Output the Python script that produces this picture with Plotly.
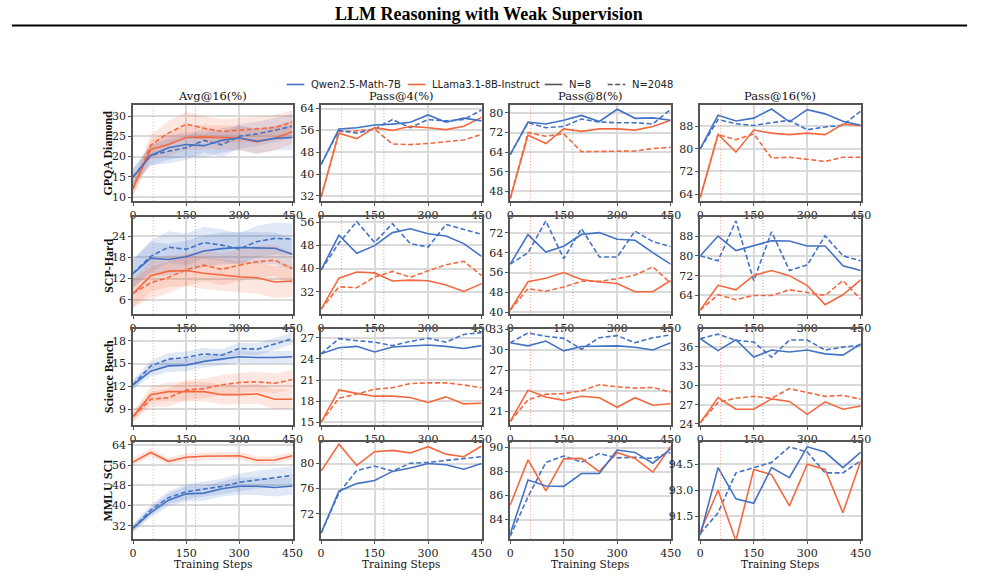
import plotly.graph_objects as go

W, H = 985, 585
STEPS = [0, 50, 100, 150, 200, 250, 300, 350, 400, 450]
BENCHMARKS = ["GPQA Diamond", "SCP-Hard", "Science Bench", "MMLU SCI"]
METRICS = ["Avg@16(%)", "Pass@4(%)", "Pass@8(%)", "Pass@16(%)"]
MODELS = ["Qwen2.5-Math-7B", "LLama3.1-8B-Instruct"]
BUDGETS = ["N=8", "N=2048"]
X_TICKS = [0, 150, 300, 450]
MARK_STEPS = [57, 176]  # dotted reference lines (LLama, Qwen)

# ---------------- GPQA Diamond ----------------
GPQA_AVG_Q8 = [15.0, 20.3, 22.2, 23.0, 22.7, 24.0, 24.6, 23.8, 24.5, 24.7]
GPQA_AVG_Q2K = [15.0, 20.3, 21.3, 22.2, 24.0, 22.9, 25.0, 25.6, 26.5, 27.5]
GPQA_AVG_L8 = [12.3, 21.8, 23.0, 24.7, 24.8, 24.7, 24.6, 23.6, 24.6, 26.1]
GPQA_AVG_L2K = [12.0, 22.8, 25.8, 28.0, 27.0, 26.2, 26.5, 26.8, 27.2, 28.5]
GPQA_AVG_QSD = [2.0, 2.5, 3.0, 3.0, 3.0, 3.0, 3.0, 3.0, 3.0, 3.0]
GPQA_AVG_LSD = [1.8, 2.5, 3.0, 3.0, 3.0, 3.0, 3.0, 3.0, 3.0, 3.0]

GPQA_P4_Q8 = [43.5, 56.5, 57.0, 58.0, 58.3, 59.0, 61.7, 59.0, 60.5, 59.5]
GPQA_P4_Q2K = [43.5, 56.0, 55.0, 56.5, 60.0, 57.0, 60.0, 59.5, 60.0, 63.5]
GPQA_P4_L8 = [31.5, 55.0, 53.0, 57.0, 56.0, 57.5, 57.0, 56.3, 57.5, 60.8]
GPQA_P4_L2K = [31.5, 55.5, 55.8, 56.5, 51.0, 50.8, 51.2, 51.8, 52.5, 54.5]

GPQA_P8_Q8 = [63.0, 76.3, 75.5, 77.0, 79.0, 76.5, 81.5, 77.8, 78.0, 77.0]
GPQA_P8_Q2K = [63.0, 76.0, 74.0, 74.5, 77.5, 76.3, 76.0, 76.0, 75.5, 81.5]
GPQA_P8_L8 = [45.0, 71.0, 67.5, 73.5, 72.5, 73.5, 73.5, 73.0, 74.5, 77.0]
GPQA_P8_L2K = [45.0, 72.0, 70.5, 71.5, 64.2, 64.2, 64.3, 64.5, 65.5, 66.0]

GPQA_P16_Q8 = [80.0, 91.8, 89.8, 90.8, 94.0, 89.5, 93.8, 92.3, 89.7, 88.3]
GPQA_P16_Q2K = [80.0, 90.3, 88.8, 88.2, 89.2, 90.0, 86.7, 87.7, 88.3, 93.3]
GPQA_P16_L8 = [62.8, 85.1, 78.8, 86.6, 85.5, 85.0, 85.5, 85.0, 88.7, 88.2]
GPQA_P16_L2K = [62.8, 85.0, 83.2, 85.2, 76.7, 77.0, 76.3, 75.5, 77.0, 77.0]

# ---------------- SCP-Hard ----------------
SCP_AVG_Q8 = [13.4, 17.8, 17.4, 18.2, 19.8, 20.5, 20.8, 20.8, 20.6, 18.9]
SCP_AVG_Q2K = [13.5, 18.3, 20.9, 20.3, 22.2, 21.5, 20.4, 22.5, 23.4, 23.2]
SCP_AVG_L8 = [7.7, 12.8, 14.1, 14.3, 13.5, 12.9, 12.5, 12.2, 11.0, 11.3]
SCP_AVG_L2K = [7.8, 10.8, 12.3, 14.5, 15.8, 14.6, 15.8, 16.8, 17.2, 14.8]
SCP_AVG_QSD = [4.0, 4.5, 4.5, 4.5, 4.5, 4.5, 4.5, 4.5, 4.5, 4.5]
SCP_AVG_LSD = [4.0, 4.5, 4.5, 4.5, 4.5, 4.5, 4.5, 4.5, 4.5, 4.5]

SCP_P4_Q8 = [39.5, 51.5, 45.3, 47.9, 52.4, 53.7, 52.0, 51.2, 48.6, 44.2]
SCP_P4_Q2K = [39.5, 48.8, 56.2, 49.0, 55.5, 48.6, 47.4, 55.2, 53.5, 51.8]
SCP_P4_L8 = [26.0, 36.7, 38.8, 38.5, 35.7, 36.0, 35.8, 34.3, 32.1, 34.8]
SCP_P4_L2K = [26.0, 33.7, 33.4, 37.1, 39.0, 37.0, 39.2, 41.3, 42.5, 37.6]

SCP_P8_Q8 = [59.4, 71.3, 64.3, 66.6, 71.3, 72.1, 69.4, 69.0, 64.0, 59.4]
SCP_P8_Q2K = [59.4, 64.0, 76.8, 61.6, 73.7, 62.3, 62.3, 72.7, 68.5, 66.5]
SCP_P8_L8 = [40.9, 52.3, 53.7, 56.0, 53.2, 52.2, 51.6, 48.3, 48.3, 52.8]
SCP_P8_L2K = [40.9, 49.5, 48.5, 50.2, 52.5, 52.5, 53.5, 55.0, 58.3, 51.7]

SCP_P16_Q8 = [80.0, 88.0, 82.1, 84.0, 86.1, 86.0, 84.0, 84.0, 76.0, 74.1]
SCP_P16_Q2K = [80.0, 78.0, 94.1, 70.0, 89.7, 74.1, 76.3, 88.1, 80.0, 78.0]
SCP_P16_L8 = [58.1, 68.1, 66.3, 72.1, 74.1, 72.0, 68.0, 60.3, 64.3, 70.3]
SCP_P16_L2K = [58.1, 64.3, 62.3, 64.0, 64.0, 66.3, 65.2, 64.0, 70.0, 62.5]

# ---------------- Science Bench ----------------
SCI_AVG_Q8 = [12.2, 14.0, 14.7, 14.8, 15.3, 15.6, 15.9, 15.8, 15.8, 15.9]
SCI_AVG_Q2K = [12.2, 14.7, 15.6, 15.8, 16.3, 16.1, 17.0, 16.9, 17.6, 18.3]
SCI_AVG_L8 = [8.0, 10.9, 11.3, 11.3, 11.3, 10.9, 10.9, 11.0, 10.3, 10.3]
SCI_AVG_L2K = [8.0, 10.3, 10.5, 11.5, 11.7, 12.2, 12.5, 12.6, 12.4, 12.9]
SCI_AVG_QSD = [0.6, 0.7, 0.8, 0.8, 0.8, 0.8, 0.8, 0.8, 0.8, 0.8]
SCI_AVG_LSD = [0.6, 1.0, 1.2, 1.3, 1.3, 1.3, 1.3, 1.3, 1.3, 1.3]

SCI_P4_Q8 = [24.75, 25.6, 25.8, 25.0, 25.7, 25.8, 26.0, 25.8, 25.5, 25.9]
SCI_P4_Q2K = [24.75, 26.9, 26.6, 26.4, 25.9, 26.5, 26.95, 26.4, 27.5, 27.75]
SCI_P4_L8 = [15.0, 19.6, 19.1, 18.7, 18.7, 18.5, 17.8, 18.6, 17.6, 17.7]
SCI_P4_L2K = [15.0, 18.4, 19.0, 19.7, 19.9, 20.5, 20.6, 20.6, 20.3, 19.9]

SCI_P8_Q8 = [31.05, 30.6, 31.3, 29.86, 30.5, 30.6, 30.6, 30.4, 30.0, 31.05]
SCI_P8_Q2K = [31.05, 32.5, 32.0, 31.7, 30.1, 31.8, 32.1, 31.05, 31.8, 32.2]
SCI_P8_L8 = [19.5, 24.1, 23.1, 22.6, 23.2, 23.0, 21.6, 23.0, 21.9, 22.1]
SCI_P8_L2K = [19.5, 22.7, 23.5, 23.6, 24.0, 24.9, 24.6, 24.4, 24.5, 23.8]

SCI_P16_Q8 = [37.27, 35.4, 37.1, 34.4, 35.5, 35.2, 35.5, 34.9, 34.7, 36.45]
SCI_P16_Q2K = [37.27, 37.97, 37.0, 36.76, 34.4, 37.05, 37.05, 35.5, 35.95, 36.25]
SCI_P16_L8 = [24.2, 28.1, 26.3, 26.3, 27.9, 27.5, 25.5, 27.45, 26.3, 26.8]
SCI_P16_L2K = [24.2, 27.35, 28.0, 28.3, 28.0, 29.5, 28.9, 28.3, 28.45, 27.85]

# ---------------- MMLU SCI (no LLama N=2048 curve) ----------------
MMLU_AVG_Q8 = [31.0, 37.2, 42.1, 44.6, 44.9, 46.6, 47.6, 47.6, 47.1, 47.7]
MMLU_AVG_Q2K = [31.0, 38.2, 43.1, 45.4, 46.5, 47.5, 49.2, 50.2, 51.2, 51.9]
MMLU_AVG_L8 = [57.2, 61.0, 57.5, 59.1, 59.5, 59.5, 59.7, 57.9, 58.0, 59.7]
MMLU_AVG_L2K = None
MMLU_AVG_QSD = [1.5, 2.0, 2.5, 3.0, 3.0, 3.0, 3.5, 3.5, 3.5, 3.5]
MMLU_AVG_LSD = [1.5, 1.5, 1.5, 1.5, 1.5, 1.5, 1.5, 1.5, 1.5, 1.5]

MMLU_P4_Q8 = [68.9, 75.6, 76.8, 77.3, 78.75, 79.3, 80.0, 79.8, 79.1, 80.0]
MMLU_P4_Q2K = [68.9, 75.3, 78.9, 79.6, 78.8, 80.05, 80.2, 80.5, 80.7, 81.1]
MMLU_P4_L8 = [78.8, 83.1, 79.7, 81.9, 82.1, 81.7, 82.7, 81.5, 81.1, 82.8]

MMLU_P8_Q8 = [82.8, 87.3, 86.8, 86.77, 87.84, 87.84, 89.8, 89.6, 88.7, 89.9]
MMLU_P8_Q2K = [82.6, 85.9, 88.76, 89.3, 88.8, 89.5, 89.15, 89.2, 89.1, 89.6]
MMLU_P8_L8 = [85.2, 88.98, 86.4, 89.06, 89.1, 88.0, 89.6, 89.1, 87.95, 90.1]

MMLU_P16_Q8 = [90.4, 94.3, 92.5, 92.25, 94.3, 93.72, 95.5, 95.2, 94.3, 95.2]
MMLU_P16_Q2K = [90.5, 91.7, 94.0, 94.3, 94.6, 95.5, 95.2, 94.0, 94.0, 94.7]
MMLU_P16_L8 = [90.6, 93.0, 90.08, 94.2, 93.9, 92.1, 94.5, 94.2, 91.7, 94.7]

# ---------------- axis ranges / ticks ----------------
Y_RANGES = [
    [[9, 32.7], [30, 65.3], [44, 83.2], [61.5, 95.4]],
    [[1.9, 29.5], [24.3, 57.8], [39.3, 78.4], [56.5, 95.7]],
    [[6.9, 19.6], [14.6, 28.3], [19.0, 33.1], [23.85, 38.8]],
    [[26.8, 65.3], [68.0, 83.5], [82.4, 90.5], [90.2, 95.8]],
]
Y_TICKS = [
    [["10", "15", "20", "25", "30"], ["32", "40", "48", "56", "64"], ["48", "56", "64", "72", "80"], ["64", "72", "80", "88"]],
    [["6", "12", "18", "24"], ["32", "40", "48", "56"], ["40", "48", "56", "64", "72"], ["64", "72", "80", "88"]],
    [["9", "12", "15", "18"], ["15", "18", "21", "24", "27"], ["21", "24", "27", "30", "33"], ["24", "27", "30", "33", "36"]],
    [["32", "40", "48", "56", "64"], ["72", "76", "80"], ["84", "86", "88", "90"], ["91.5", "93.0", "94.5"]],
]

# ---------------- assemble tables ----------------
PANELS = [
    [(GPQA_AVG_Q8, GPQA_AVG_Q2K, GPQA_AVG_L8, GPQA_AVG_L2K, GPQA_AVG_QSD, GPQA_AVG_LSD),
     (GPQA_P4_Q8, GPQA_P4_Q2K, GPQA_P4_L8, GPQA_P4_L2K, None, None),
     (GPQA_P8_Q8, GPQA_P8_Q2K, GPQA_P8_L8, GPQA_P8_L2K, None, None),
     (GPQA_P16_Q8, GPQA_P16_Q2K, GPQA_P16_L8, GPQA_P16_L2K, None, None)],
    [(SCP_AVG_Q8, SCP_AVG_Q2K, SCP_AVG_L8, SCP_AVG_L2K, SCP_AVG_QSD, SCP_AVG_LSD),
     (SCP_P4_Q8, SCP_P4_Q2K, SCP_P4_L8, SCP_P4_L2K, None, None),
     (SCP_P8_Q8, SCP_P8_Q2K, SCP_P8_L8, SCP_P8_L2K, None, None),
     (SCP_P16_Q8, SCP_P16_Q2K, SCP_P16_L8, SCP_P16_L2K, None, None)],
    [(SCI_AVG_Q8, SCI_AVG_Q2K, SCI_AVG_L8, SCI_AVG_L2K, SCI_AVG_QSD, SCI_AVG_LSD),
     (SCI_P4_Q8, SCI_P4_Q2K, SCI_P4_L8, SCI_P4_L2K, None, None),
     (SCI_P8_Q8, SCI_P8_Q2K, SCI_P8_L8, SCI_P8_L2K, None, None),
     (SCI_P16_Q8, SCI_P16_Q2K, SCI_P16_L8, SCI_P16_L2K, None, None)],
    [(MMLU_AVG_Q8, MMLU_AVG_Q2K, MMLU_AVG_L8, MMLU_AVG_L2K, MMLU_AVG_QSD, MMLU_AVG_LSD),
     (MMLU_P4_Q8, MMLU_P4_Q2K, MMLU_P4_L8, None, None, None),
     (MMLU_P8_Q8, MMLU_P8_Q2K, MMLU_P8_L8, None, None, None),
     (MMLU_P16_Q8, MMLU_P16_Q2K, MMLU_P16_L8, None, None, None)],
]

BLUE = "#4472c4"
ORANGE = "#f4683f"
BLUE_FILL = "rgba(68,114,196,0.16)"
ORANGE_FILL = "rgba(244,104,63,0.16)"
FRAME = "#555555"
GRID = "#dadada"
DASH = "5px,2.5px"

COL_X = [(131, 293), (322, 485), (514, 677), (707, 870)]
ROW_Y = [(102, 200), (216, 315), (330, 428), (445, 544)]


def xp(px):
    return px / W


def yp(py):
    return 1 - py / H


fig = go.Figure()
layout = dict(
    width=W, height=H, margin=dict(l=0, r=0, t=0, b=0),
    paper_bgcolor="white", plot_bgcolor="white", showlegend=False,
)
shapes = []
annotations = []

tick_font = dict(family="DejaVu Serif", size=11, color="#222222")

for r in range(4):
    for c in range(4):
        idx = r * 4 + c + 1
        xa = "x" if idx == 1 else f"x{idx}"
        ya = "y" if idx == 1 else f"y{idx}"
        q8, q2k, l8, l2k, qsd, lsd = PANELS[r][c]

        # std bands
        if qsd is not None:
            for series, sd, fill in [(q8, qsd, BLUE_FILL), (q2k, qsd, BLUE_FILL),
                                     (l8, lsd, ORANGE_FILL), (l2k, lsd, ORANGE_FILL)]:
                if series is None:
                    continue
                up = [v + s for v, s in zip(series, sd)]
                lo = [v - s for v, s in zip(series, sd)]
                fig.add_trace(go.Scatter(
                    x=STEPS + STEPS[::-1], y=up + lo[::-1], fill="toself",
                    fillcolor=fill, line=dict(width=0), mode="lines",
                    hoverinfo="skip", xaxis=xa, yaxis=ya))

        for series, color, dash in [(l2k, ORANGE, DASH), (q2k, BLUE, DASH),
                                    (l8, ORANGE, "solid"), (q8, BLUE, "solid")]:
            if series is None:
                continue
            fig.add_trace(go.Scatter(
                x=STEPS, y=series, mode="lines",
                line=dict(color=color, width=1.6, dash=dash),
                xaxis=xa, yaxis=ya))

        x0, x1 = COL_X[c]
        y0, y1 = ROW_Y[r]
        key = "" if idx == 1 else str(idx)
        layout["xaxis" + key] = dict(
            domain=[xp(x0), xp(x1)], anchor=ya, range=[0, 450],
            tickvals=X_TICKS, ticktext=[str(t) for t in X_TICKS],
            showgrid=True, gridcolor=GRID, gridwidth=1.5, zeroline=False,
            showline=True, mirror=True, linecolor=FRAME, linewidth=1.5,
            ticks="outside", ticklen=3, tickcolor=FRAME, tickfont=tick_font,
        )
        yt = Y_TICKS[r][c]
        layout["yaxis" + key] = dict(
            domain=[yp(y1), yp(y0)], anchor=xa, range=Y_RANGES[r][c],
            tickvals=[float(t) for t in yt], ticktext=yt,
            showgrid=True, gridcolor=GRID, gridwidth=1.5, zeroline=False,
            showline=True, mirror=True, linecolor=FRAME, linewidth=1.5,
            ticks="outside", ticklen=3, tickcolor=FRAME, tickfont=tick_font,
        )
        # dotted reference lines
        for step, col in zip(MARK_STEPS, ["rgba(244,104,63,0.6)", "rgba(68,114,196,0.6)"]):
            shapes.append(dict(type="line", xref=xa, yref=ya + " domain",
                               x0=step, x1=step, y0=0, y1=1,
                               line=dict(color=col, width=1, dash="1px,2px")))

# panel titles
for c, m in enumerate(METRICS):
    x0, x1 = COL_X[c]
    annotations.append(dict(text=m, x=xp((x0 + x1) / 2), y=yp(93),
                            xref="paper", yref="paper", xanchor="center", yanchor="middle",
                            borderpad=0, showarrow=False,
                            font=dict(family="DejaVu Serif", size=11.5, color="#111")))
# row labels
for r, b in enumerate(BENCHMARKS):
    y0, y1 = ROW_Y[r]
    annotations.append(dict(text=f"<b>{b}</b>", x=xp(106), y=yp((y0 + y1) / 2),
                            xref="paper", yref="paper", xanchor="center", yanchor="middle",
                            textangle=-90, showarrow=False,
                            font=dict(family="Liberation Serif", size=12, color="#111")))
# x-axis titles
for c in range(4):
    x0, x1 = COL_X[c]
    annotations.append(dict(text="Training Steps", x=xp((x0 + x1) / 2), y=yp(570),
                            xref="paper", yref="paper", xanchor="center", yanchor="middle",
                            borderpad=0, showarrow=False,
                            font=dict(family="DejaVu Serif", size=10.5, color="#111")))

# page header
annotations.append(dict(text="<b>LLM Reasoning with Weak Supervision</b>", x=xp(492), y=yp(9),
                        xref="paper", yref="paper", xanchor="center", yanchor="middle",
                        showarrow=False, font=dict(family="Liberation Serif", size=18, color="#000")))
shapes.append(dict(type="line", xref="paper", yref="paper", x0=xp(8), x1=xp(978),
                   y0=yp(21), y1=yp(21), line=dict(color="#000", width=2)))

# legend
LEG = [(287, MODELS[0], BLUE, "solid"), (410, MODELS[1], ORANGE, "solid"),
       (549, BUDGETS[0], "#555555", "solid"), (613, BUDGETS[1], "#555555", DASH)]
for lx, label, color, dash in LEG:
    shapes.append(dict(type="line", xref="paper", yref="paper", x0=xp(lx), x1=xp(lx + 18),
                       y0=yp(81), y1=yp(81), line=dict(color=color, width=1.6, dash=dash)))
    annotations.append(dict(text=label, x=xp(lx + 24), y=yp(81), xref="paper", yref="paper",
                            xanchor="left", yanchor="middle", borderpad=0, showarrow=False,
                            font=dict(family="DejaVu Sans", size=10, color="#222")))

layout["shapes"] = shapes
layout["annotations"] = annotations
fig.update_layout(**layout)
fig.write_html("out.html")
